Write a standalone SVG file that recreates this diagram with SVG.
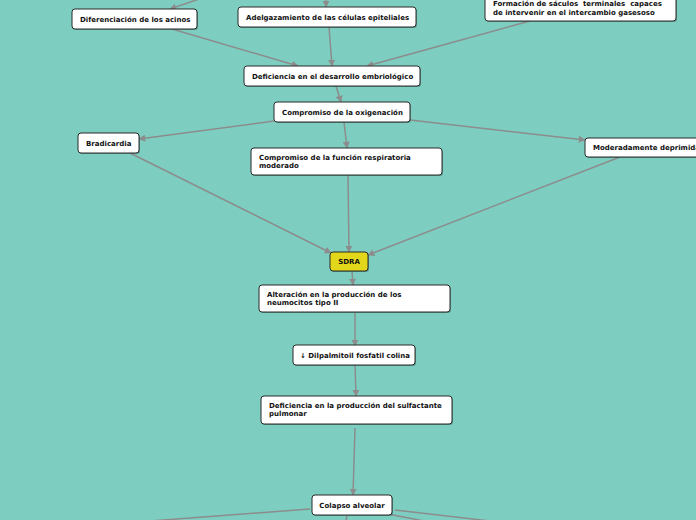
<svg xmlns="http://www.w3.org/2000/svg" width="696" height="520" viewBox="0 0 696 520">
<defs>
<marker id="ah" viewBox="0 0 10 10" refX="9" refY="5" markerWidth="7" markerHeight="7" orient="auto" markerUnits="userSpaceOnUse">
<path d="M0,0 L10,5 L0,10 z" fill="#8c8c8c"/>
</marker>
<style>
.c{stroke:#8c8c8c;stroke-width:1.5;fill:none}
.a{marker-end:url(#ah)}
.b{fill:#ffffff;stroke:#2a2a2a;stroke-width:1}
.s{fill:#3d6b63;opacity:0.55}
.y{fill:#e3d71c;stroke:#2a2a2a;stroke-width:1}
.t{font-family:"DejaVu Sans",Verdana,sans-serif;font-weight:bold;font-size:7px;fill:#111111}
.p{white-space:pre}
</style>
</defs>
<rect width="696" height="520" fill="#7dcec0"/>
<g id="connectors">
<line class="c a" x1="202" y1="-2" x2="170" y2="9"/>
<line class="c a" x1="326" y1="-2" x2="326" y2="7"/>
<line class="c a" x1="172" y1="29" x2="298" y2="66"/>
<line class="c a" x1="329" y1="27" x2="332" y2="66"/>
<line class="c a" x1="530" y1="21" x2="367" y2="66"/>
<line class="c a" x1="336" y1="86" x2="341" y2="102"/>
<line class="c a" x1="274" y1="121" x2="139" y2="139"/>
<line class="c a" x1="344" y1="122" x2="347" y2="148"/>
<line class="c a" x1="410" y1="120" x2="585" y2="140"/>
<line class="c a" x1="130" y1="153" x2="331" y2="253"/>
<line class="c a" x1="348" y1="175" x2="349" y2="252"/>
<line class="c a" x1="620" y1="157" x2="368" y2="255"/>
<line class="c a" x1="352" y1="271" x2="353" y2="285"/>
<line class="c a" x1="355" y1="313" x2="355" y2="346"/>
<line class="c a" x1="355" y1="365" x2="356" y2="396"/>
<line class="c a" x1="355" y1="428" x2="353" y2="495"/>
<line class="c" x1="310" y1="509" x2="150" y2="521"/>
<line class="c" x1="395" y1="510" x2="490" y2="521"/>
<line class="c" x1="388" y1="514" x2="424" y2="521"/>
<line class="c" x1="347" y1="516" x2="346" y2="521"/>
</g>
<g id="n1"><rect class="s" x="73" y="10" width="125" height="20" rx="3"/><rect class="b" x="72" y="9" width="125" height="20" rx="3"/><text class="t" x="80" y="21.5">Diferenciación de los acinos</text></g>
<g id="n2"><rect class="s" x="239" y="8" width="178" height="20" rx="3"/><rect class="b" x="238" y="7" width="178" height="20" rx="3"/><text class="t" x="246" y="19.5">Adelgazamiento de las células epiteliales</text></g>
<g id="n3"><rect class="s" x="486" y="-5" width="191" height="27" rx="3"/><rect class="b" x="485" y="-6" width="191" height="27" rx="3"/><text class="t p" x="493" y="5.5" xml:space="preserve">Formación de sáculos  terminales  capaces</text><text class="t" x="493" y="14.5">de intervenir en el intercambio gasesoso</text></g>
<g id="n4"><rect class="s" x="245" y="67" width="176" height="20" rx="3"/><rect class="b" x="244" y="66" width="176" height="20" rx="3"/><text class="t" x="252" y="78.5">Deficiencia en el desarrollo embriológico</text></g>
<g id="n5"><rect class="s" x="275" y="103" width="136" height="20" rx="3"/><rect class="b" x="274" y="102" width="136" height="20" rx="3"/><text class="t" x="282" y="114.5">Compromiso de la oxigenación</text></g>
<g id="n6"><rect class="s" x="79" y="134" width="61" height="20" rx="3"/><rect class="b" x="78" y="133" width="61" height="20" rx="3"/><text class="t" x="86" y="145.5">Bradicardia</text></g>
<g id="n7"><rect class="s" x="252" y="149" width="191" height="27" rx="3"/><rect class="b" x="251" y="148" width="191" height="27" rx="3"/><text class="t" x="259" y="159.5">Compromiso de la función respiratoria</text><text class="t" x="259" y="168">moderado</text></g>
<g id="n8"><rect class="s" x="586" y="139" width="120" height="19" rx="3"/><rect class="b" x="585" y="138" width="120" height="19" rx="3"/><text class="t" x="593" y="150">Moderadamente deprimida</text></g>
<g id="n9"><rect class="s" x="331" y="253" width="38" height="19" rx="3"/><rect class="y" x="330" y="252" width="38" height="19" rx="3"/><text class="t" x="349" y="264" text-anchor="middle">SDRA</text></g>
<g id="n10"><rect class="s" x="260" y="286" width="191" height="27" rx="3"/><rect class="b" x="259" y="285" width="191" height="27" rx="3"/><text class="t" x="267" y="296.5">Alteración en la producción de los</text><text class="t" x="267" y="305">neumocitos tipo II</text></g>
<g id="n11"><rect class="s" x="294" y="346" width="122" height="20" rx="3"/><rect class="b" x="293" y="345" width="122" height="20" rx="3"/><text class="t" x="300" y="357.5">↓ Dilpalmitoil fosfatil colina</text></g>
<g id="n12"><rect class="s" x="262" y="397" width="191" height="28" rx="3"/><rect class="b" x="261" y="396" width="191" height="28" rx="3"/><text class="t" x="269" y="407.5">Deficiencia en la producción del sulfactante</text><text class="t" x="269" y="416">pulmonar</text></g>
<g id="n13"><rect class="s" x="313" y="496" width="80" height="20" rx="3"/><rect class="b" x="312" y="495" width="80" height="20" rx="3"/><text class="t" x="352" y="507.5" text-anchor="middle">Colapso alveolar</text></g>
</svg>
